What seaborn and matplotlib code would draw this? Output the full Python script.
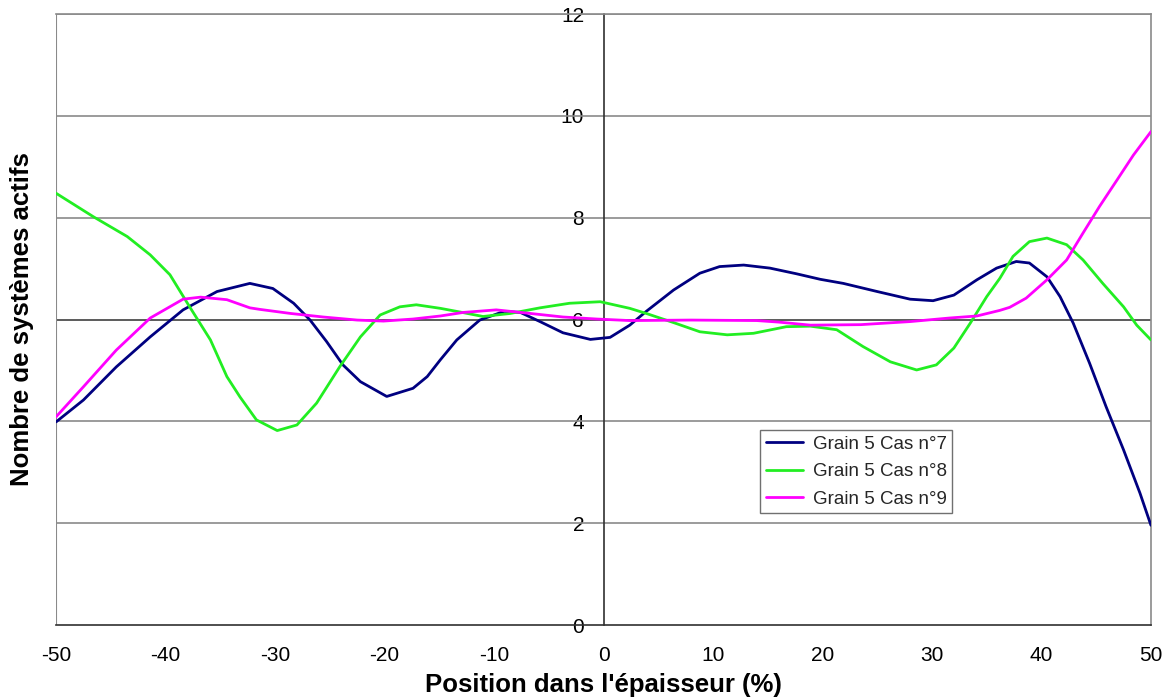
import numpy as np
import pandas as pd
import matplotlib
matplotlib.use("Agg")
import matplotlib.pyplot as plt
from matplotlib import font_manager
import seaborn as sns

# values
cas7_x = [-50, -47.5, -44.5, -41.4, -38.4, -35.3, -32.3, -30.2, -28.3, -26.8, -25.3, -23.8, -22.2,
          -19.8, -17.4, -16.1, -14.9, -13.4, -11.3, -9.1, -7.6, -5.8, -3.7, -1.2, 0.6, 2.4, 3.9,
          6.4, 8.8, 10.6, 12.8, 15.2, 17.6, 19.8, 21.9, 25.0, 28.0, 30.1, 32.0, 34.1, 35.9, 37.7,
          38.9, 40.5, 41.7, 42.9, 44.4, 45.9, 47.5, 49.0, 50]
cas7_y = [3.99, 4.42, 5.07, 5.66, 6.19, 6.55, 6.71, 6.61, 6.32, 5.99, 5.57, 5.11, 4.78,
          4.49, 4.65, 4.88, 5.21, 5.60, 5.99, 6.16, 6.14, 5.96, 5.74, 5.61, 5.65, 5.89, 6.16,
          6.58, 6.91, 7.04, 7.07, 7.01, 6.90, 6.79, 6.71, 6.55, 6.40, 6.37, 6.48, 6.78, 7.01, 7.14,
          7.11, 6.84, 6.45, 5.93, 5.14, 4.29, 3.44, 2.59, 1.96]

cas8_x = [-50, -46.6, -43.5, -41.4, -39.6, -37.8, -35.9, -34.4, -33.2, -31.7, -29.8, -28.0, -26.2,
          -24.1, -22.2, -20.4, -18.6, -17.1, -14.9, -13.4, -11.0, -8.5, -5.8, -3.1, -0.3, 2.4,
          3.9, 6.4, 8.8, 11.3, 13.7, 16.7, 18.9, 21.3, 23.7, 26.2, 28.6, 30.4, 32.0, 33.5, 35.0,
          36.2, 37.4, 38.9, 40.5, 42.3, 43.8, 45.6, 47.5, 48.7, 50]
cas8_y = [8.48, 8.02, 7.63, 7.27, 6.88, 6.25, 5.60, 4.88, 4.48, 4.03, 3.82, 3.93, 4.36,
          5.07, 5.66, 6.09, 6.25, 6.29, 6.22, 6.16, 6.06, 6.12, 6.23, 6.32, 6.35, 6.22,
          6.12, 5.94, 5.76, 5.70, 5.73, 5.86, 5.87, 5.80, 5.47, 5.17, 5.01, 5.11, 5.44, 5.93, 6.45,
          6.81, 7.24, 7.53, 7.60, 7.47, 7.17, 6.71, 6.25, 5.89, 5.60]

cas9_x = [-50, -47.5, -44.5, -41.4, -38.4, -36.8, -34.4, -32.3, -31.4, -28.6, -25.6, -22.5, -20.1,
          -17.4, -14.9, -12.8, -9.8, -6.7, -3.7, -0.6, 2.4, 8.0, 14.0, 16.0, 18.9, 23.5, 28.0,
          31.6, 34.1, 36.2, 37.1, 38.6, 40.5, 42.3, 43.8, 45.3, 46.9, 48.4, 50]
cas9_y = [4.09, 4.68, 5.40, 6.03, 6.40, 6.44, 6.39, 6.23, 6.20, 6.12, 6.05, 5.99, 5.97,
          6.01, 6.07, 6.14, 6.19, 6.12, 6.05, 6.01, 5.98, 5.99, 5.98, 5.95, 5.89, 5.90, 5.96,
          6.03, 6.07, 6.18, 6.24, 6.42, 6.78, 7.17, 7.70, 8.22, 8.74, 9.23, 9.69]

labels = ["Grain 5 Cas n°7", "Grain 5 Cas n°8", "Grain 5 Cas n°9"]
colors = ["#000080", "#22EE22", "#FF00FF"]

df = pd.concat([
    pd.DataFrame({"x": cas7_x, "y": cas7_y, "serie": labels[0]}),
    pd.DataFrame({"x": cas8_x, "y": cas8_y, "serie": labels[1]}),
    pd.DataFrame({"x": cas9_x, "y": cas9_y, "serie": labels[2]}),
])

sns.set_style("white")
plt.rcParams["font.family"] = ["Liberation Sans", "DejaVu Sans"]
plt.rcParams["axes.unicode_minus"] = False

# narrow font for the tick labels if it exists
installed = {f.name for f in font_manager.fontManager.ttflist}
tick_font = "Liberation Sans Narrow" if "Liberation Sans Narrow" in installed else "Liberation Sans"

fig = plt.figure(figsize=(11.68, 7), dpi=100)
ax = fig.add_axes([0.048, 0.107, 0.9374, 0.873])

ax.set_xlim(-50, 50)
ax.set_ylim(0, 12)
ax.set_yticks(np.arange(0, 13, 2))
ax.set_xticks(np.arange(-50, 51, 10))

# horizontal gridlines
for t in np.arange(2, 13, 2):
    ax.axhline(t, color="#404040" if t == 6 else "#8a8a8a", lw=1.2, zorder=1)
ax.axvline(ax.get_xlim()[0], color="#8a8a8a", lw=1.5, zorder=1)

sns.lineplot(data=df, x="x", y="y", hue="serie", palette=colors, estimator=None,
             sort=True, lw=2, ax=ax, zorder=3)

# axes crossing at x=0
ax.spines["left"].set_position(("data", 0))
ax.spines["left"].set_color("#303030")
ax.spines["bottom"].set_color("#303030")
ax.spines["right"].set_color("#8a8a8a")
ax.spines["top"].set_color("#8a8a8a")
for s in ax.spines.values():
    s.set_linewidth(1.2)
    s.set_zorder(2)

ax.tick_params(axis="x", direction="out", length=6, width=1, color="#303030", pad=9,
               labelsize=15, labelcolor="black")
ax.tick_params(axis="y", direction="out", length=0, pad=14, labelsize=15, labelcolor="black")
for lab in ax.get_xticklabels() + ax.get_yticklabels():
    lab.set_family([tick_font, "DejaVu Sans"])

ax.set_xlabel("Position dans l'épaisseur (%)", fontsize=18.5, fontweight="bold",
              color="black", labelpad=6)
ax.set_ylabel("Nombre de systèmes actifs", fontsize=18.5, fontweight="bold", color="black")
ax.yaxis.set_label_coords(-0.02, 0.5, transform=ax.transAxes)

leg = ax.legend(loc="upper left", bbox_to_anchor=(0.643, 0.319), borderaxespad=0,
                fontsize=13.5, frameon=True, fancybox=False, edgecolor="#707070",
                framealpha=1, handlelength=2.0, handletextpad=0.5, borderpad=0.3,
                labelspacing=0.55)
leg.get_frame().set_linewidth(1)

fig.savefig("out.png", dpi=100, facecolor="white")
